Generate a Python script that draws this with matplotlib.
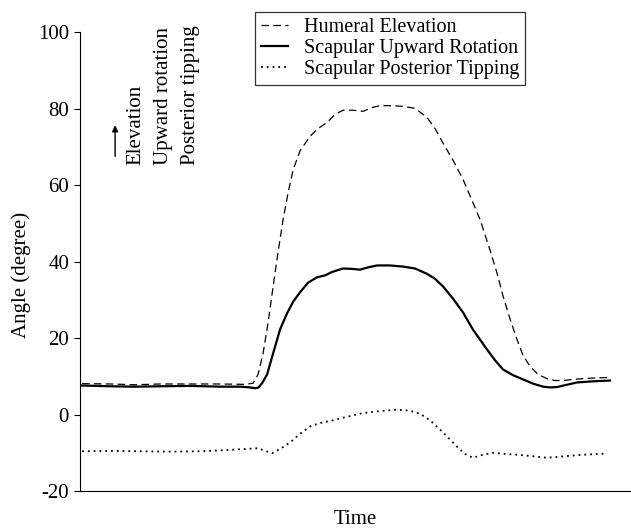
import numpy as np
import matplotlib.pyplot as plt

plt.rcParams['font.family'] = ['Liberation Serif', 'DejaVu Serif']
plt.rcParams['axes.unicode_minus'] = False

# time axis in arbitrary units (0..100)
t_hum = [0.36, 5.44, 9.98, 14.52, 19.96, 25.41, 29.95, 31.40, 32.30, 33.21, 34.12, 35.03, 35.93, 36.84,
         37.75, 38.66, 39.93, 41.74, 43.19, 44.83, 46.28, 47.73, 49.55, 51.36, 52.99, 54.45, 56.62, 58.62,
         60.80, 62.98, 64.43, 65.88, 67.70, 69.51, 71.14, 72.60, 74.41, 75.68, 76.77, 78.04, 79.31, 80.40,
         81.67, 83.12, 84.75, 86.21, 87.66, 89.47, 91.29, 93.83, 96.19]
humeral = [8.1, 8.0, 7.8, 8.0, 8.0, 8.0, 7.9, 8.2, 10.5, 16, 24, 33.5, 42.5, 51,
           58, 64, 69, 72.8, 74.8, 76.4, 78.5, 79.6, 79.6, 79.3, 80.3, 80.8, 80.8, 80.6,
           80.1, 77.7, 74.8, 71, 66.5, 61.5, 56, 51, 43, 37, 31, 25, 19.6, 15.5,
           12.6, 10.5, 9.4, 8.9, 8.9, 9.2, 9.4, 9.6, 9.7]

t_rot = [0.36, 5.44, 9.98, 14.52, 19.96, 25.41, 29.04, 30.85, 31.76, 32.30, 33.03, 33.94, 35.03, 36.30,
         37.57, 38.66, 39.93, 41.38, 43.01, 44.46, 45.74, 47.73, 49.36, 50.82, 52.27, 53.90, 56.26, 58.62,
         60.80, 62.98, 64.43, 65.88, 67.70, 69.51, 71.32, 72.60, 73.87, 75.32, 76.77, 78.58, 80.40, 82.21,
         84.03, 85.30, 86.57, 88.38, 90.20, 93.10, 96.19]
rotation = [7.6, 7.4, 7.3, 7.4, 7.5, 7.3, 7.3, 7.1, 6.9, 7.0, 8.2, 10.5, 16, 22.3,
            26.5, 29.5, 32, 34.5, 35.9, 36.4, 37.3, 38.2, 38.1, 37.9, 38.5, 39.0, 39.0, 38.7,
            38.2, 36.8, 35.5, 33.5, 30.3, 26.7, 22.2, 19.6, 17, 14.2, 11.8, 10.3, 9.2, 8.1,
            7.3, 7.1, 7.2, 7.8, 8.4, 8.7, 8.9]

t_tip = [0.36, 5.44, 10.89, 16.33, 21.78, 26.32, 29.95, 32.30, 33.58, 34.85, 36.30, 38.11, 39.93, 41.74,
         43.56, 45.92, 48.09, 51.36, 54.45, 57.53, 59.89, 61.71, 63.52, 65.34, 66.79, 68.42, 69.87, 71.32,
         73.14, 74.95, 77.13, 79.31, 82.21, 84.75, 88.02, 91.29, 95.64]
tipping = [-9.6, -9.5, -9.6, -9.7, -9.6, -9.3, -9.0, -8.8, -9.5, -10.1, -9.0, -7.3, -5.0, -3.1,
           -2.2, -1.5, -0.7, 0.4, 0.9, 1.3, 1.0, 0.2, -1.5, -3.9, -6.0, -8.4, -10.3, -11.3,
           -10.5, -10.0, -10.3, -10.5, -10.9, -11.3, -10.9, -10.5, -10.2]

fig = plt.figure(figsize=(6.31, 5.28), dpi=100)
ax = fig.add_axes([0.127, 0.070, 0.873, 0.869])

ax.plot(t_hum, humeral, color='black', lw=0.9, ls=(0, (6, 3.5)), label='Humeral Elevation')
ax.plot(t_rot, rotation, color='black', lw=1.6, ls='-', label='Scapular Upward Rotation')
ax.plot(t_tip, tipping, color='black', lw=1.3, ls=(0, (1, 2.2)), label='Scapular Posterior Tipping')

ax.set_xlim(0, 100)
ax.set_ylim(-20, 100)
ax.set_yticks([-20, 0, 20, 40, 60, 80, 100])
ax.set_xticks([])
ax.spines['top'].set_visible(False)
ax.spines['right'].set_visible(False)
ax.tick_params(axis='y', direction='out', length=4, labelsize=15, pad=4)
ax.set_ylabel('Angle (degree)', fontsize=15)
ax.yaxis.set_label_coords(-0.09, 0.47)
ax.set_xlabel('Time', fontsize=15, labelpad=14)

leg = ax.legend(loc='upper left', bbox_to_anchor=(0.318, 1.044), fontsize=14.5, frameon=True,
                fancybox=False, edgecolor='black', handlelength=1.3, handletextpad=0.8,
                labelspacing=0.08, borderpad=0.3, borderaxespad=0)
leg.get_frame().set_linewidth(0.9)

# direction annotation
ax.annotate('', xy=(6.35, 76.4), xytext=(6.35, 66.8),
            arrowprops=dict(arrowstyle='-|>', color='black', lw=1, mutation_scale=9))
for xt, txt in zip([10.2, 15.1, 20.1], ['Elevation', 'Upward rotation', 'Posterior tipping']):
    ax.text(xt, 65.3, txt, rotation=90, ha='center', va='bottom', fontsize=15)

fig.savefig('out.png', dpi=100)
